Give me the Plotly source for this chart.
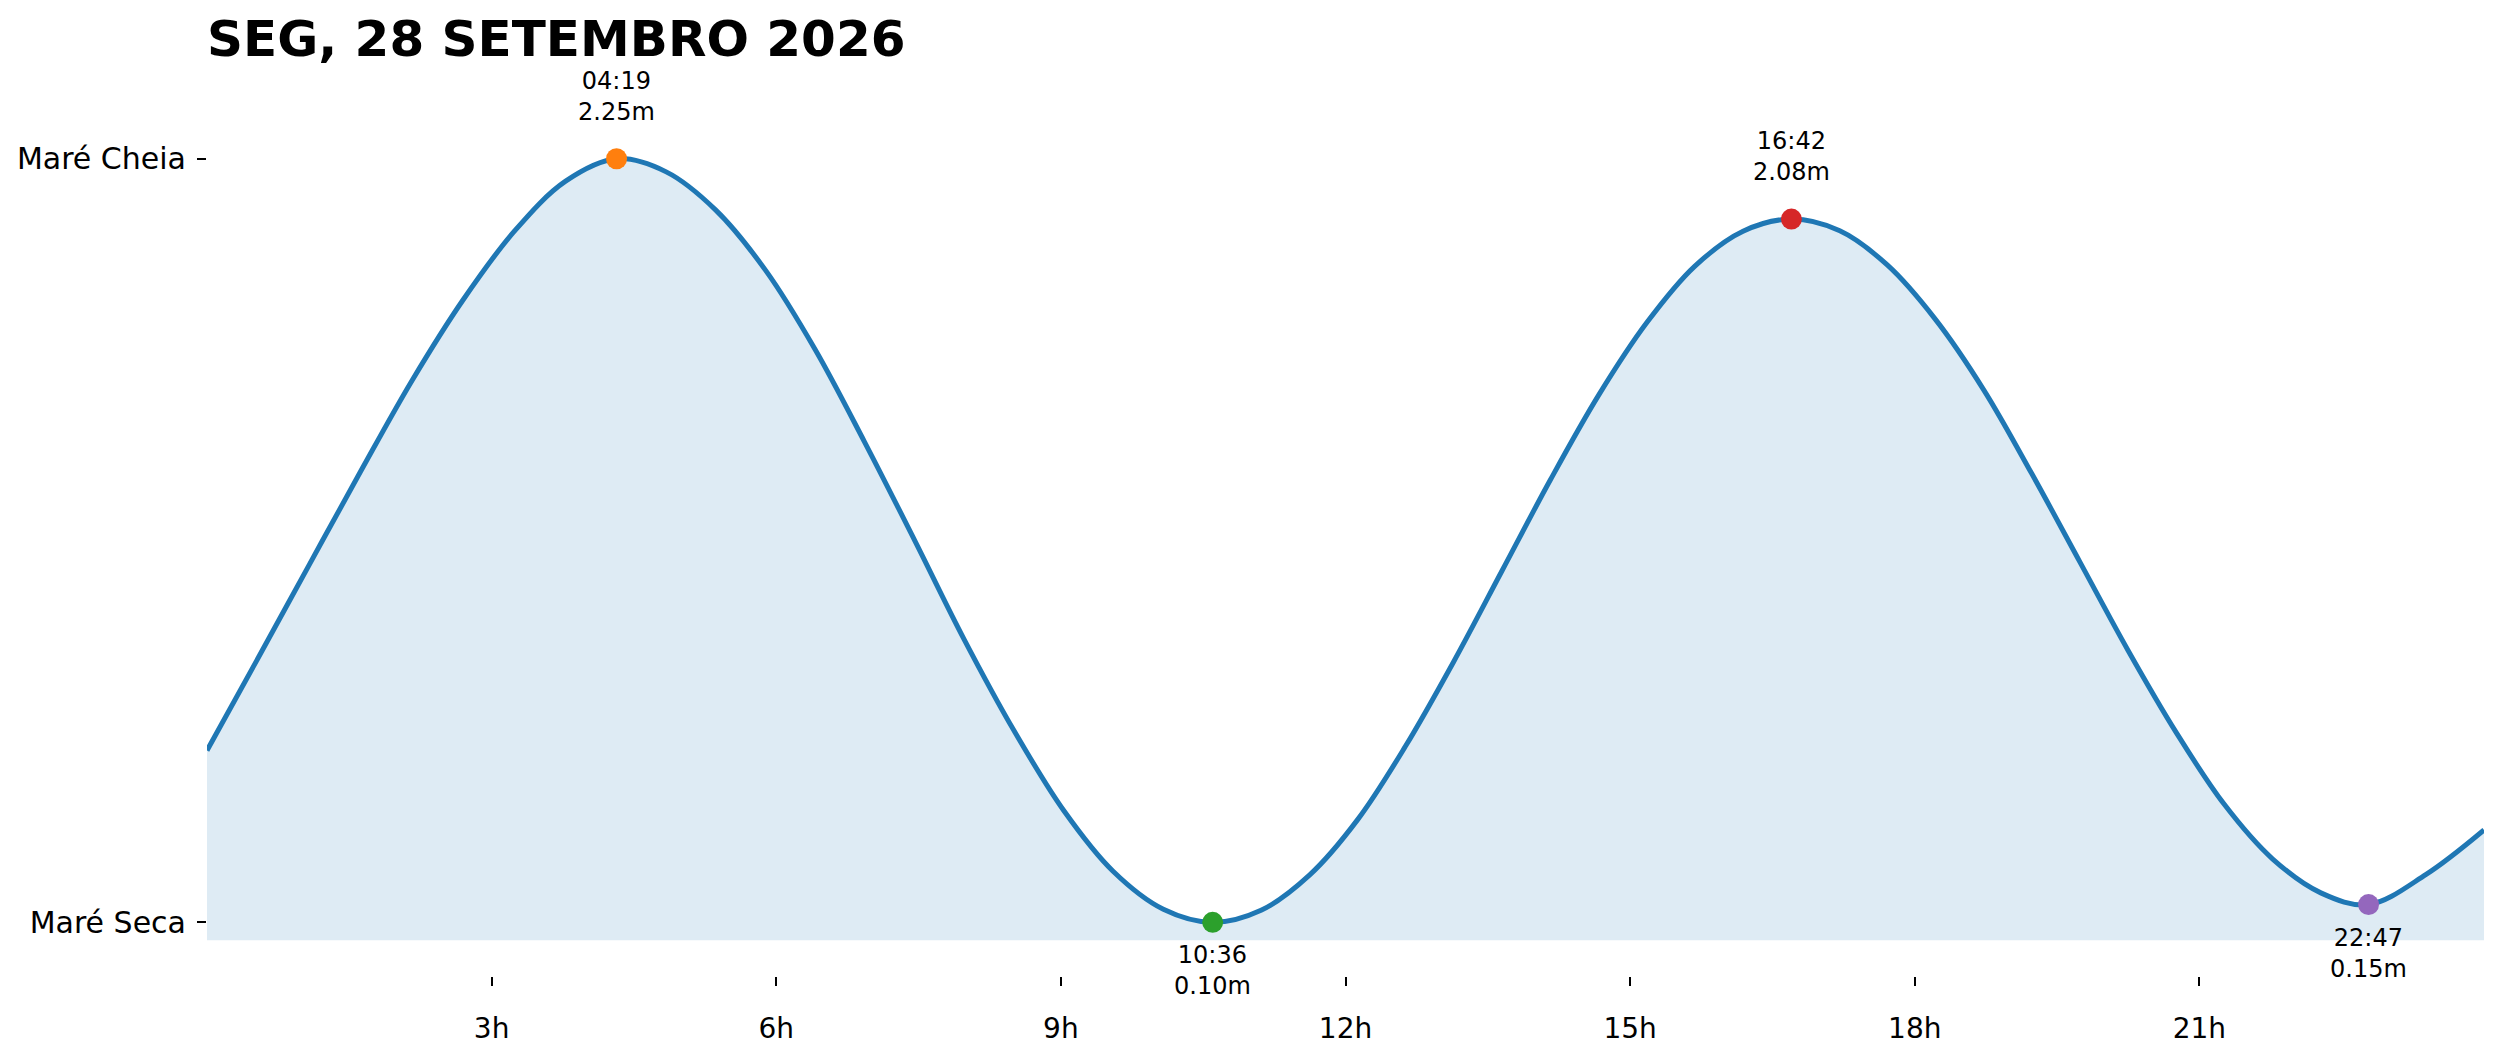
import plotly.graph_objects as go

# tide curve (hour of day, height in m)
curve_hours = [0, 0.54, 1.08, 1.62, 2.16, 2.70, 3.24, 3.78, 4.32,
               4.84, 5.36, 5.89, 6.41, 6.93, 7.46, 7.98, 8.51, 9.03, 9.55, 10.08, 10.6,
               11.11, 11.62, 12.13, 12.63, 13.14, 13.65, 14.16, 14.67, 15.18, 15.68, 16.19, 16.7,
               17.21, 17.71, 18.22, 18.73, 19.23, 19.74, 20.25, 20.76, 21.26, 21.77, 22.28, 22.78,
               23.39, 24.0]
curve_heights = [0.584, 0.845, 1.108, 1.37, 1.625, 1.853, 2.046, 2.187, 2.25,
                 2.213, 2.106, 1.935, 1.713, 1.453, 1.175, 0.897, 0.638, 0.415, 0.244, 0.137, 0.10,
                 0.134, 0.233, 0.39, 0.595, 0.834, 1.09, 1.346, 1.585, 1.79, 1.947, 2.046, 2.08,
                 2.047, 1.951, 1.797, 1.598, 1.365, 1.115, 0.865, 0.633, 0.433, 0.279, 0.183, 0.15,
                 0.235, 0.36]

# high / low tide events
event_times = ["04:19", "10:36", "16:42", "22:47"]
event_heights = [2.25, 0.10, 2.08, 0.15]
event_is_high = [True, False, True, False]
event_colors = ["#ff7f0e", "#2ca02c", "#d62728", "#9467bd"]

hour_ticks = [3, 6, 9, 12, 15, 18, 21]
hour_labels = ["3h", "6h", "9h", "12h", "15h", "18h", "21h"]

y_tick_labels = ["Maré Cheia", "Maré Seca"]
fill_floor = 0.05
title_text = "SEG, 28 SETEMBRO 2026"

FONT = "DejaVu Sans"


def to_hours(hhmm):
    h, m = hhmm.split(":")
    return int(h) + int(m) / 60


event_hours = [to_hours(t) for t in event_times]

fig = go.Figure()

# baseline for the shaded area
fig.add_trace(go.Scatter(
    x=[curve_hours[0], curve_hours[-1]], y=[fill_floor, fill_floor],
    mode="lines", line=dict(width=0), hoverinfo="skip", showlegend=False,
))
fig.add_trace(go.Scatter(
    x=curve_hours, y=curve_heights, mode="lines",
    line=dict(color="#1f77b4", width=5, shape="spline"),
    fill="tonexty", fillcolor="rgba(31,119,180,0.15)", showlegend=False,
))

for hr, ht, col in zip(event_hours, event_heights, event_colors):
    fig.add_trace(go.Scatter(
        x=[hr], y=[ht], mode="markers",
        marker=dict(color=col, size=21), showlegend=False,
    ))

for hr, ht, label, high in zip(event_hours, event_heights, event_times, event_is_high):
    fig.add_annotation(
        x=hr, y=ht, text=f"{label}<br>{ht:.2f}m", showarrow=False,
        yanchor="bottom" if high else "top", yshift=32 if high else -18,
        borderpad=0,
        font=dict(family=FONT, size=24, color="black"),
    )

# the page body adds an 8px margin, so the figure is sized to fit inside it
fig.update_layout(
    width=2485, height=1046,
    margin=dict(l=197, r=9, t=52, b=77),
    plot_bgcolor="white", paper_bgcolor="white",
    showlegend=False,
    title=dict(
        text=title_text, xref="paper", x=0, xanchor="left",
        yref="container", y=0.9713, yanchor="middle",
        font=dict(family=FONT, size=50, color="black", weight="bold"),
    ),
)
fig.update_xaxes(
    range=[0, 24], tickvals=hour_ticks, ticktext=hour_labels,
    showgrid=False, zeroline=False, showline=False,
    ticks="outside", ticklen=9, tickwidth=2, tickcolor="black",
    ticklabelstandoff=18,
    tickfont=dict(family=FONT, size=28, color="black"),
)
fig.update_yaxes(
    range=[-0.051, 2.528],
    tickvals=[max(event_heights), min(event_heights)], ticktext=y_tick_labels,
    showgrid=False, zeroline=False, showline=False,
    ticks="outside", ticklen=9, tickwidth=2, tickcolor="black",
    ticklabelstandoff=5,
    tickfont=dict(family=FONT, size=30, color="black"),
)

fig.write_html("out.html")
